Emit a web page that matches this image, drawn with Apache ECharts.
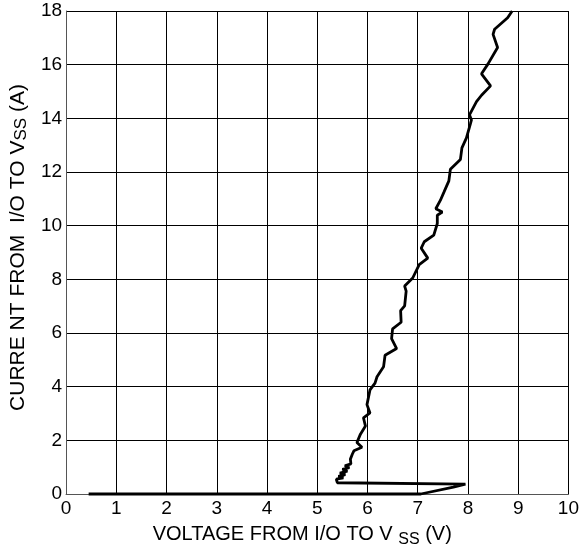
<!DOCTYPE html>
<html lang="en">
<head>
    <meta charset="utf-8">
    <title>I/O to VSS current</title>
    <script src="https://cdn.jsdelivr.net/npm/echarts@6/dist/echarts.min.js"></script>
    <style>
        html, body { margin: 0; padding: 0; background: #fff; }
    </style>
</head>

<body>
    <div id="main" style="width:582px;height:553px;"></div>

    <script type="text/javascript">
    // volts (x) and amps (y), in drawing order
    var volts = [0.45, 7.06, 7.71, 7.95, 5.40,
        5.38, 5.52, 5.42, 5.56, 5.45, 5.60, 5.50, 5.64, 5.55, 5.67, 5.66, 5.70, 5.73,
        5.89, 5.79, 5.86, 5.96, 5.92, 6.05, 5.99, 6.05, 6.15, 6.19, 6.32, 6.35,
        6.58, 6.48, 6.50, 6.67, 6.66, 6.74, 6.77, 6.74, 6.90, 7.03, 7.20, 7.07,
        7.13, 7.32, 7.39, 7.39, 7.49, 7.36, 7.45, 7.52, 7.62, 7.65, 7.85, 7.88,
        7.97, 8.05, 8.07, 8.03, 8.17, 8.27, 8.45, 8.27, 8.40, 8.59, 8.50, 8.53,
        8.79, 8.88];
    var amps = [0, 0, 0.26, 0.37, 0.42,
        0.55, 0.60, 0.66, 0.72, 0.78, 0.85, 0.92, 0.98, 1.05, 1.12, 1.30, 1.49, 1.61,
        1.74, 1.92, 2.23, 2.53, 2.84, 3.02, 3.33, 3.88, 4.13, 4.37, 4.74, 5.17,
        5.42, 5.79, 6.15, 6.40, 6.83, 7.01, 7.56, 7.75, 8.05, 8.55, 8.79, 9.16,
        9.40, 9.65, 10.08, 10.39, 10.51, 10.63, 10.94, 11.24, 11.67, 12.10, 12.47, 12.90,
        13.27, 13.80, 13.94, 14.13, 14.62, 14.86, 15.21, 15.66, 16.03, 16.64, 17.13, 17.32,
        17.75, 18.0];

    var xTicks = [0, 10, 1];   // min, max, step
    var yTicks = [0, 18, 2];

    var pts = volts.map(function (v, i) { return [v, amps[i]]; });

    var font = '"Liberation Sans", Arial, sans-serif';
    var myChart = echarts.init(document.getElementById('main'));

    myChart.setOption({
        animation: false,
        grid: { left: 65, right: 5, top: 11, bottom: 52 },
        xAxis: {
            type: 'value',
            min: xTicks[0], max: xTicks[1], interval: xTicks[2],
            name: '{a|VOLTAGE FROM I/O TO V }{b|SS}{a| (V)}',
            nameLocation: 'middle',
            nameGap: 26,
            nameTextStyle: {
                padding: [0, 30, 0, 0],
                rich: {
                    a: { fontFamily: font, fontSize: 20, color: '#000' },
                    b: { fontFamily: font, fontSize: 16, color: '#000', padding: [12, 0, 0, 0] }
                }
            },
            axisLine: { lineStyle: { color: '#555', width: 1 } },
            axisTick: { show: false },
            axisLabel: { fontFamily: font, fontSize: 19, color: '#000', margin: 5 },
            splitLine: { lineStyle: { color: '#000', width: 1 } }
        },
        yAxis: {
            type: 'value',
            min: yTicks[0], max: yTicks[1], interval: yTicks[2],
            name: '{a|CURRE NT FROM  I/O TO V}{b|SS}{a| (A)}',
            nameLocation: 'middle',
            nameGap: 34,
            nameTextStyle: {
                padding: [0, 0, 0, 10],
                rich: {
                    a: { fontFamily: font, fontSize: 21, color: '#000' },
                    b: { fontFamily: font, fontSize: 17, color: '#000', padding: [6, 0, 0, 0] }
                }
            },
            axisLine: { lineStyle: { color: '#555', width: 1 } },
            axisTick: { show: false },
            axisLabel: { fontFamily: font, fontSize: 19, color: '#000', margin: 4 },
            splitLine: { lineStyle: { color: '#000', width: 1 } }
        },
        series: [{
            type: 'line',
            data: pts,
            showSymbol: false,
            lineStyle: { color: '#000', width: 2.8 },
            clip: false
        }]
    });
    </script>
</body>
</html>
